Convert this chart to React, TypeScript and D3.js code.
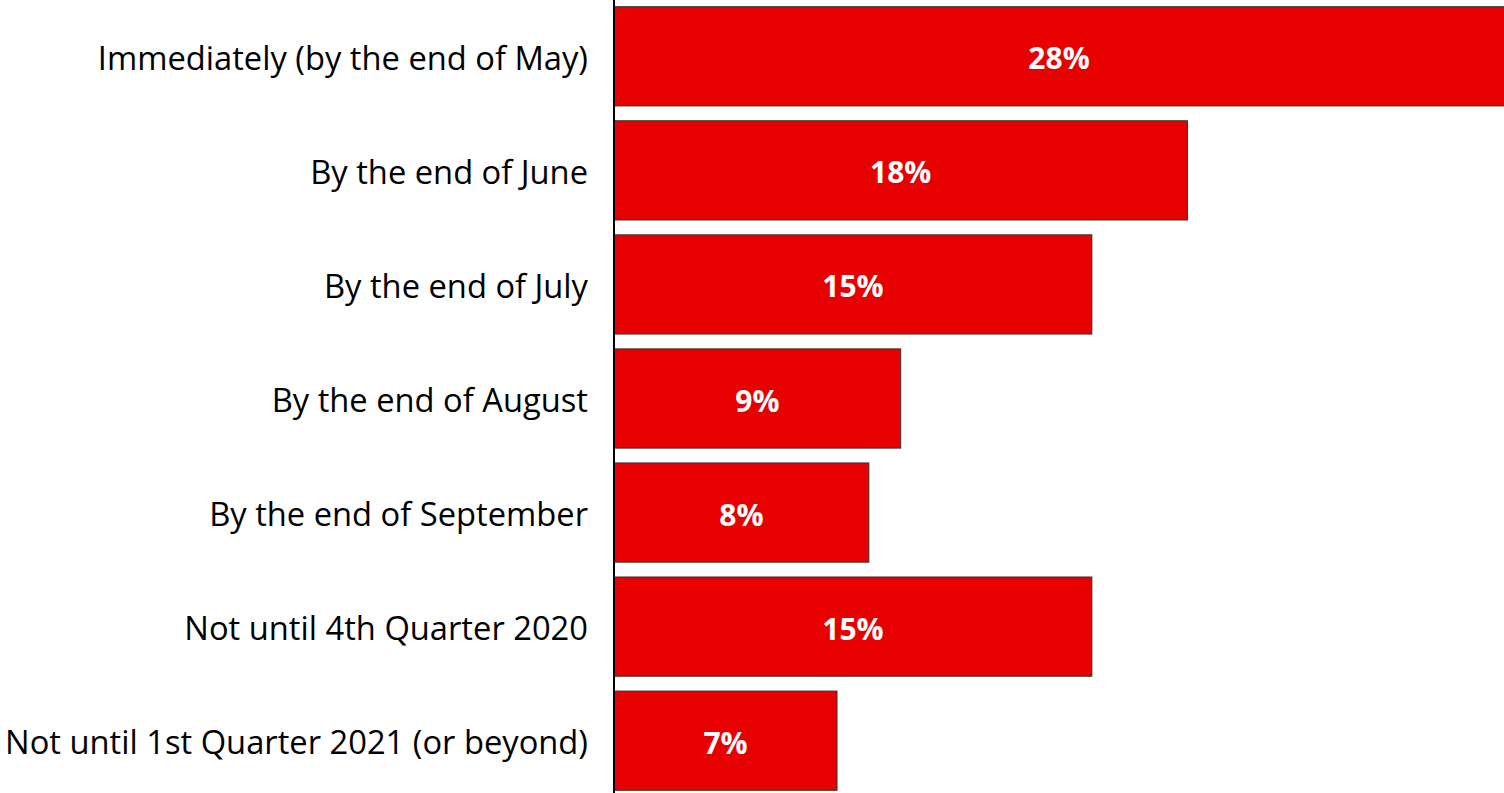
import { useMemo } from "react";
import * as d3 from "d3";

const categories = [
  "Immediately (by the end of May)",
  "By the end of June",
  "By the end of July",
  "By the end of August",
  "By the end of September",
  "Not until 4th Quarter 2020",
  "Not until 1st Quarter 2021 (or beyond)",
];
const shares = [0.28, 0.18, 0.15, 0.09, 0.08, 0.15, 0.07];

const WIDTH = 1504;
const HEIGHT = 793;
const AXIS_X = 614;
const LABEL_GAP = 26; // space between category label and axis
const FONT = "'Open Sans', Lato, sans-serif";

export default function App() {
  const data = useMemo(
    () => categories.map((c, i) => ({ category: c, value: shares[i] })),
    []
  );

  const y = d3
    .scaleBand<string>()
    .domain(categories)
    .range([1, 796])
    .paddingInner(0.13)
    .paddingOuter(0.05);

  const x = d3.scaleLinear().domain([0, 0.28]).range([AXIS_X, 1506]);
  const fmt = d3.format(".0%");

  return (
    <div style={{ position: "fixed", left: 0, top: 0 }}>
      <svg width={WIDTH} height={HEIGHT} style={{ display: "block", background: "#fff" }}>
        {data.map((d) => {
          const y0 = y(d.category) ?? 0;
          const bw = y.bandwidth();
          return (
            <g key={d.category}>
              <rect
                x={x(0)}
                y={y0}
                width={x(d.value) - x(0)}
                height={bw}
                fill="#e60000"
                stroke="#333"
                strokeWidth={1}
              />
              <text
                x={(x(0) + Math.min(x(d.value), WIDTH)) / 2}
                y={y0 + bw / 2 + 1.5}
                textAnchor="middle"
                dominantBaseline="central"
                fill="#fff"
                fontFamily={FONT}
                fontWeight={700}
                fontSize={30}
              >
                {fmt(d.value)}
              </text>
              <text
                x={AXIS_X - LABEL_GAP}
                y={y0 + bw / 2 + 1}
                textAnchor="end"
                dominantBaseline="central"
                fill="#000"
                fontFamily={FONT}
                fontSize={32.7}
              >
                {d.category}
              </text>
            </g>
          );
        })}
        <line x1={AXIS_X} x2={AXIS_X} y1={0} y2={HEIGHT} stroke="#000" strokeWidth={2} />
      </svg>
    </div>
  );
}
